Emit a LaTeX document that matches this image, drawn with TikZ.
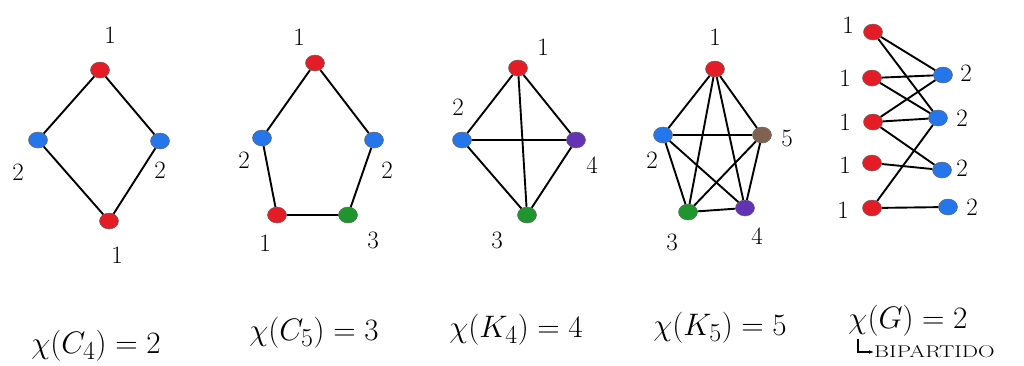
\documentclass[tikz,border=0pt]{standalone}
\usepackage{fontspec}
\usetikzlibrary{shapes.geometric,arrows.meta}
\definecolor{vred}{RGB}{228,28,38}
\definecolor{vblue}{RGB}{38,118,235}
\definecolor{vgreen}{RGB}{30,150,45}
\definecolor{vpurple}{RGB}{100,50,180}
\definecolor{vbrown}{RGB}{128,98,80}
\tikzset{
  vtx/.style={ellipse, minimum width=19pt, minimum height=16pt, inner sep=0pt, draw=black!60, line width=0.5pt},
  vr/.style={vtx, fill=vred},
  vb/.style={vtx, fill=vblue},
  vg/.style={vtx, fill=vgreen},
  vp/.style={vtx, fill=vpurple},
  vbr/.style={vtx, fill=vbrown},
  lbl/.style={font=\fontsize{25}{28}\selectfont, inner sep=0pt},
  captxt/.style={font=\fontsize{24.88}{28}\selectfont, inner sep=0pt},
  lnk/.style={line width=1.9pt, black}
}
\newcommand{\mycap}[1]{\scalebox{1.25}{$#1$}}
\begin{document}
\begin{tikzpicture}[x=1pt,y=-1pt]
\useasboundingbox (0,0) rectangle (1024,365);
% ---- C4 ----
\node[vr] (a1) at (100,70) {};
\node[vb] (a2) at (38,140) {};
\node[vb] (a3) at (160,141) {};
\node[vr] (a4) at (109,221) {};
\draw[lnk] (a1)--(a2) (a2)--(a4) (a4)--(a3) (a3)--(a1);
\node[lbl] (la1) at (110,35) {1};
\node[lbl] (la2) at (18,172) {2};
\node[lbl] (la3) at (160,170) {2};
\node[lbl] (la4) at (117,255) {1};
% ---- C5 ----
\node[vr] (b1) at (315,63) {};
\node[vb] (b2) at (262,138) {};
\node[vb] (b3) at (374,140) {};
\node[vr] (b4) at (277,215) {};
\node[vg] (b5) at (348,215) {};
\draw[lnk] (b1)--(b2) (b2)--(b4) (b4)--(b5) (b5)--(b3) (b3)--(b1);
\node[lbl] (lb1) at (299,37) {1};
\node[lbl] (lb2) at (244,160) {2};
\node[lbl] (lb3) at (387,170) {2};
\node[lbl] (lb4) at (265,243) {1};
\node[lbl] (lb5) at (373,240) {3};
% ---- K4 ----
\node[vr] (c1) at (518,68) {};
\node[vb] (c2) at (462,140) {};
\node[vp] (c4) at (576,140) {};
\node[vg] (c3) at (527,215) {};
\draw[lnk] (c1)--(c2) (c1)--(c3) (c1)--(c4) (c2)--(c4) (c2)--(c3) (c3)--(c4);
\node[lbl] (lc1) at (543,47) {1};
\node[lbl] (lc2) at (458,107) {2};
\node[lbl] (lc4) at (592,165) {4};
\node[lbl] (lc3) at (497,240) {3};
% ---- K5 ----
\node[vr] (d1) at (715,69) {};
\node[vb] (d2) at (663,135) {};
\node[vbr] (d5) at (762,135) {};
\node[vg] (d3) at (688,212) {};
\node[vp] (d4) at (745,208) {};
\foreach \u/\v in {d1/d2,d1/d3,d1/d4,d1/d5,d2/d3,d2/d4,d2/d5,d3/d4,d3/d5,d4/d5}
  \draw[lnk] (\u)--(\v);
\node[lbl] (ld1) at (715,37) {1};
\node[lbl] (ld2) at (652,160) {2};
\node[lbl] (ld5) at (787,138) {5};
\node[lbl] (ld3) at (672,242) {3};
\node[lbl] (ld4) at (757,236) {4};
% ---- Bipartite ----
\node[vr] (L1) at (873,32) {};
\node[vr] (L2) at (872,78) {};
\node[vr] (L3) at (873,122) {};
\node[vr] (L4) at (872,163) {};
\node[vr] (L5) at (872,208) {};
\node[vb] (R1) at (943,75) {};
\node[vb] (R2) at (938,118) {};
\node[vb] (R3) at (942,170) {};
\node[vb] (R4) at (948,207) {};
\foreach \u/\v in {L1/R1,L1/R2,L2/R1,L2/R2,L3/R1,L3/R2,L3/R3,L4/R3,L5/R2,L5/R4}
  \draw[lnk] (\u)--(\v);
\node[lbl] (lL1) at (848,25) {1};
\node[lbl] (lL2) at (845,78) {1};
\node[lbl] (lL3) at (845,122) {1};
\node[lbl] (lL4) at (845,165) {1};
\node[lbl] (lL5) at (843,210) {1};
\node[lbl] (lR1) at (966,73) {2};
\node[lbl] (lR2) at (962,118) {2};
\node[lbl] (lR3) at (962,168) {2};
\node[lbl] (lR4) at (972,207) {2};
% ---- captions ----
\node[captxt] (k1) at (96,346) {\mycap{\chi(C_4)=2}};
\node[captxt] (k2) at (314,333) {\mycap{\chi(C_5)=3}};
\node[captxt] (k3) at (516,330) {\mycap{\chi(K_4)=4}};
\node[captxt] (k4) at (720,328) {\mycap{\chi(K_5)=5}};
\node[captxt] (k5) at (908,321) {\mycap{\chi(G)=2}};
\node[font=\fontsize{17}{19}\selectfont, inner sep=0pt, anchor=west] (bip) at (874,352) {\scalebox{1.35}[1]{BIPARTIDO}};
\coordinate (hk) at (858,339);
\draw[line width=1.1pt, -{Latex[length=5pt]}] (hk) |- (bip.west);
\end{tikzpicture}
\end{document}
